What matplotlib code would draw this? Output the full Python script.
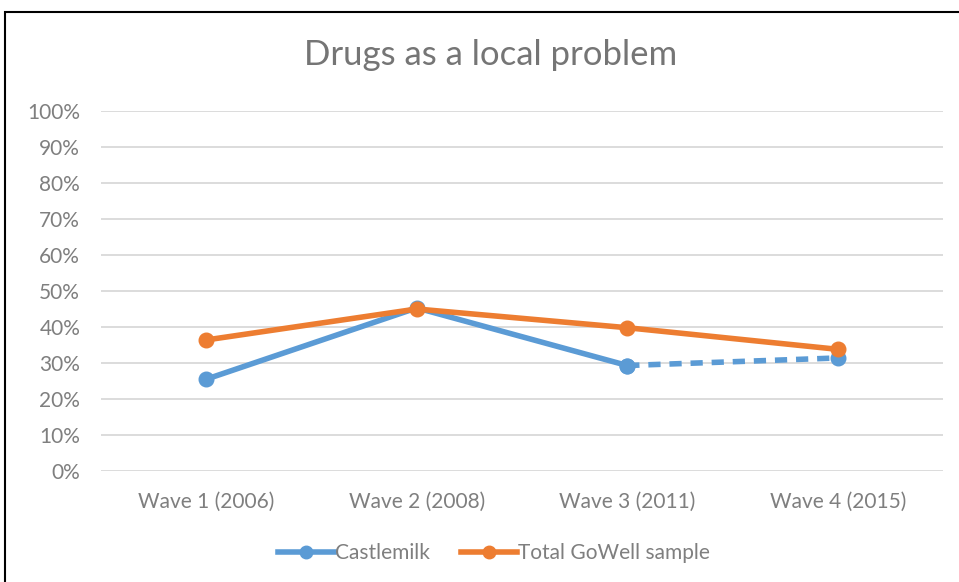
import matplotlib.pyplot as plt
from matplotlib.patches import Rectangle
from matplotlib.lines import Line2D

# Dados
ondas = ['Wave 1 (2006)', 'Wave 2 (2008)', 'Wave 3 (2011)', 'Wave 4 (2015)']
castlemilk = [25.5, 45.3, 29.3, 31.4]
gowell = [36.4, 45.0, 39.8, 33.8]
yticks = list(range(0, 101, 10))

AZUL = '#5b9bd5'
LARANJA = '#ed7d31'
CINZA = '#7f7f7f'

plt.rcParams['font.family'] = ['Lato', 'DejaVu Sans']

fig = plt.figure(figsize=(9.59, 5.82), dpi=100)
ax = fig.add_axes([101 / 959, 1 - 471 / 582, 842 / 959, 360 / 582])

x = list(range(len(ondas)))

# ── Linhas ────────────────────────────────────────────────────────────────────
ax.plot(x[:3], castlemilk[:3], color=AZUL, lw=4, marker='o', ms=10.5,
        solid_capstyle='round', zorder=3)
ax.plot(x[2:], castlemilk[2:], color=AZUL, lw=4, ls=(0, (2.2, 1.6)),
        marker='o', ms=10.5, zorder=3)
ax.plot(x, gowell, color=LARANJA, lw=4, marker='o', ms=10.5,
        solid_capstyle='round', zorder=4)

# ── Eixos ─────────────────────────────────────────────────────────────────────
ax.set_xlim(-0.5, 3.5)
ax.set_ylim(0, 100)
ax.set_yticks(yticks)
ax.set_yticklabels([f'{v}%' for v in yticks])
ax.set_xticks(x)
ax.set_xticklabels(ondas)
ax.tick_params(length=0, labelsize=15, colors=CINZA)
ax.tick_params(axis='y', pad=15)
ax.tick_params(axis='x', pad=15)
ax.grid(axis='y', color='#d9d9d9', lw=1.3)
ax.set_axisbelow(True)
for s in ax.spines.values():
    s.set_visible(False)

fig.text(491 / 959, 1 - 55 / 582, 'Drugs as a local problem', ha='center',
         va='center', fontsize=25, color='#757575')

# ── Legenda ───────────────────────────────────────────────────────────────────
h1 = Line2D([], [], color=AZUL, lw=4, marker='o', ms=9)
h2 = Line2D([], [], color=LARANJA, lw=4, marker='o', ms=9)
fig.legend([h1, h2], ['Castlemilk', 'Total GoWell sample'], loc='center',
           bbox_to_anchor=(494 / 959, 1 - 553 / 582), ncol=2, frameon=False,
           fontsize=15, labelcolor=CINZA, handlelength=2.7, handletextpad=0.05,
           columnspacing=1.5)

# Moldura
fig.patches.append(Rectangle((5 / 959, -0.05), 960 / 959, 1.05 - 12 / 582,
                             transform=fig.transFigure, fill=False,
                             edgecolor='black', lw=1.5))

fig.savefig('out.png', dpi=100)
